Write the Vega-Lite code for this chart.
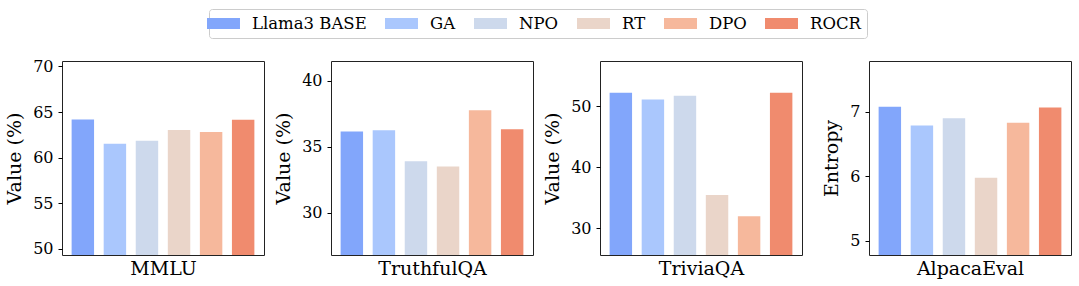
{
  "$schema": "https://vega.github.io/schema/vega-lite/v6.json",
  "padding": {"left": 5, "top": 8, "right": 5, "bottom": 5},
  "background": "white",
  "data": {"values": [
    {"bench": "MMLU", "method": "Llama3 BASE", "value": 64.19},
    {"bench": "MMLU", "method": "GA", "value": 61.52},
    {"bench": "MMLU", "method": "NPO", "value": 61.85},
    {"bench": "MMLU", "method": "RT", "value": 63.02},
    {"bench": "MMLU", "method": "DPO", "value": 62.8},
    {"bench": "MMLU", "method": "ROCR", "value": 64.15},
    {"bench": "TruthfulQA", "method": "Llama3 BASE", "value": 36.15},
    {"bench": "TruthfulQA", "method": "GA", "value": 36.25},
    {"bench": "TruthfulQA", "method": "NPO", "value": 33.9},
    {"bench": "TruthfulQA", "method": "RT", "value": 33.5},
    {"bench": "TruthfulQA", "method": "DPO", "value": 37.77},
    {"bench": "TruthfulQA", "method": "ROCR", "value": 36.33},
    {"bench": "TriviaQA", "method": "Llama3 BASE", "value": 52.2},
    {"bench": "TriviaQA", "method": "GA", "value": 51.1},
    {"bench": "TriviaQA", "method": "NPO", "value": 51.7},
    {"bench": "TriviaQA", "method": "RT", "value": 35.43},
    {"bench": "TriviaQA", "method": "DPO", "value": 31.97},
    {"bench": "TriviaQA", "method": "ROCR", "value": 52.2},
    {"bench": "AlpacaEval", "method": "Llama3 BASE", "value": 7.08},
    {"bench": "AlpacaEval", "method": "GA", "value": 6.79},
    {"bench": "AlpacaEval", "method": "NPO", "value": 6.9},
    {"bench": "AlpacaEval", "method": "RT", "value": 5.98},
    {"bench": "AlpacaEval", "method": "DPO", "value": 6.83},
    {"bench": "AlpacaEval", "method": "ROCR", "value": 7.07}
  ]},
  "spacing": 67,
  "bounds": "flush",
  "resolve": {"scale": {"y": "independent", "x": "independent"}},
  "hconcat": [
    {
      "width": 202, "height": 194,
      "transform": [{"filter": "datum.bench === 'MMLU'"}],
      "mark": {"type": "bar", "clip": true},
      "encoding": {
        "x": {"field": "method", "type": "nominal", "sort": ["Llama3 BASE", "GA", "NPO", "RT", "DPO", "ROCR"], "scale": {"paddingInner": 0.3, "paddingOuter": 0.3}, "axis": {"title": "MMLU", "labels": false, "ticks": false, "domain": false, "titleFont": "DejaVu Serif"}},
        "y": {"field": "value", "type": "quantitative", "scale": {"domain": [49.3, 70.6], "nice": false, "zero": false}, "axis": {"title": "Value (%)", "values": [50, 55, 60, 65, 70], "labelFont": "DejaVu Serif", "titleFont": "DejaVu Serif"}},
        "color": {"field": "method", "type": "nominal", "scale": {"domain": ["Llama3 BASE", "GA", "NPO", "RT", "DPO", "ROCR"], "range": ["#82a6fb", "#aac7fd", "#cdd9ec", "#ead5c9", "#f6b89c", "#f08b6e"]},
          "legend": {"orient": "top", "direction": "horizontal", "title": null, "symbolType": "M-2,-0.68H2V0.68H-2Z", "symbolSize": 272, "symbolStrokeWidth": 0, "symbolOpacity": 1, "labelFont": "DejaVu Serif", "labelFontSize": 16.5, "labelColor": "#000000", "labelOffset": 20, "columnPadding": 18, "strokeColor": "#cccccc", "padding": 6, "cornerRadius": 3, "offset": 19}}
      }
    },
    {
      "width": 202, "height": 194,
      "transform": [{"filter": "datum.bench === 'TruthfulQA'"}],
      "mark": {"type": "bar", "clip": true},
      "encoding": {
        "x": {"field": "method", "type": "nominal", "sort": ["Llama3 BASE", "GA", "NPO", "RT", "DPO", "ROCR"], "scale": {"paddingInner": 0.3, "paddingOuter": 0.3}, "axis": {"title": "TruthfulQA", "labels": false, "ticks": false, "domain": false, "titleFont": "DejaVu Serif"}},
        "y": {"field": "value", "type": "quantitative", "scale": {"domain": [26.8, 41.5], "nice": false, "zero": false}, "axis": {"title": "Value (%)", "values": [30, 35, 40], "labelFont": "DejaVu Serif", "titleFont": "DejaVu Serif"}},
        "color": {"field": "method", "type": "nominal", "scale": {"domain": ["Llama3 BASE", "GA", "NPO", "RT", "DPO", "ROCR"], "range": ["#82a6fb", "#aac7fd", "#cdd9ec", "#ead5c9", "#f6b89c", "#f08b6e"]}}
      }
    },
    {
      "width": 202, "height": 194,
      "transform": [{"filter": "datum.bench === 'TriviaQA'"}],
      "mark": {"type": "bar", "clip": true},
      "encoding": {
        "x": {"field": "method", "type": "nominal", "sort": ["Llama3 BASE", "GA", "NPO", "RT", "DPO", "ROCR"], "scale": {"paddingInner": 0.3, "paddingOuter": 0.3}, "axis": {"title": "TriviaQA", "labels": false, "ticks": false, "domain": false, "titleFont": "DejaVu Serif"}},
        "y": {"field": "value", "type": "quantitative", "scale": {"domain": [25.6, 57.4], "nice": false, "zero": false}, "axis": {"title": "Value (%)", "values": [30, 40, 50], "labelFont": "DejaVu Serif", "titleFont": "DejaVu Serif"}},
        "color": {"field": "method", "type": "nominal", "scale": {"domain": ["Llama3 BASE", "GA", "NPO", "RT", "DPO", "ROCR"], "range": ["#82a6fb", "#aac7fd", "#cdd9ec", "#ead5c9", "#f6b89c", "#f08b6e"]}}
      }
    },
    {
      "width": 202, "height": 194,
      "transform": [{"filter": "datum.bench === 'AlpacaEval'"}],
      "mark": {"type": "bar", "clip": true},
      "encoding": {
        "x": {"field": "method", "type": "nominal", "sort": ["Llama3 BASE", "GA", "NPO", "RT", "DPO", "ROCR"], "scale": {"paddingInner": 0.3, "paddingOuter": 0.3}, "axis": {"title": "AlpacaEval", "labels": false, "ticks": false, "domain": false, "titleFont": "DejaVu Serif"}},
        "y": {"field": "value", "type": "quantitative", "scale": {"domain": [4.78, 7.79], "nice": false, "zero": false}, "axis": {"title": "Entropy", "values": [5, 6, 7], "labelFont": "DejaVu Serif", "titleFont": "DejaVu Serif"}},
        "color": {"field": "method", "type": "nominal", "scale": {"domain": ["Llama3 BASE", "GA", "NPO", "RT", "DPO", "ROCR"], "range": ["#82a6fb", "#aac7fd", "#cdd9ec", "#ead5c9", "#f6b89c", "#f08b6e"]}}
      }
    }
  ],
  "config": {
    "font": "DejaVu Serif",
    "view": {"stroke": "#222222", "strokeWidth": 1},
    "style": {"guide-label": {"font": "DejaVu Serif"}, "guide-title": {"font": "DejaVu Serif"}},
    "axis": {"grid": false, "domain": false, "tickColor": "#000000", "tickSize": 4, "labelFont": "DejaVu Serif", "labelFontSize": 16, "labelColor": "#000000", "labelPadding": 5, "titleFont": "DejaVu Serif", "titleFontSize": 19, "titleFontWeight": "normal", "titleColor": "#000000", "titlePadding": 8},
    "axisX": {"titlePadding": 4},
    "legend": {"layout": {"top": {"anchor": "middle"}}}
  }
}
